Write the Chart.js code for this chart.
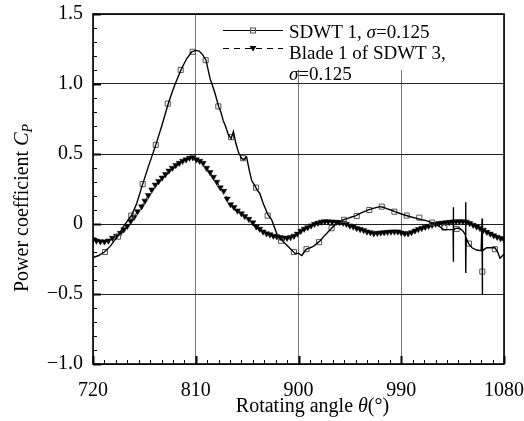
<!DOCTYPE html>
<html>
<head>
<meta charset="utf-8">
<script src="https://cdn.jsdelivr.net/npm/chart.js@4.4.1/dist/chart.umd.min.js"></script>
<style>
  html, body { margin: 0; padding: 0; background: #fff; }
  #wrap { width: 524px; height: 421px; position: relative; }
</style>
</head>
<body>
<div id="wrap"><canvas id="graficoCp" width="524" height="421"></canvas></div>
<script>
// =======================================================================
// DADOS
// =======================================================================
const X_TICKS = [720, 810, 900, 990, 1080];
const X_TICK_LABELS = ["720", "810", "900", "990", "1080"];
const Y_TICKS = [-1.0, -0.5, 0, 0.5, 1.0, 1.5];
const Y_TICK_LABELS = ["\u22121.0", "\u22120.5", "0", "0.5", "1.0", "1.5"];

// SDWT 1 - linha continua
const SDWT1_THETA = [
  720, 725, 730, 735, 739, 743, 746.5, 750, 754, 758, 763.5, 768.5, 775, 780,
  786, 791, 797, 802, 806.5, 810, 813, 816, 819, 822.5, 825, 827, 830, 832,
  834, 836, 838.5, 841, 843, 845, 847.5, 850, 852, 854.5, 857, 859, 862, 864,
  866, 869, 873, 876.5, 881, 886.5, 892, 897, 900, 903, 905, 907, 910, 913,
  916, 919, 922, 925, 929, 933.5, 939, 943, 946.5, 950, 954, 958, 962.5, 967,
  971.5, 975, 977, 981, 984.5, 989, 993, 998, 1003.5, 1008, 1012, 1016, 1021,
  1024, 1027, 1030, 1033, 1035.4, 1035.5, 1035.7, 1035.9, 1038.5, 1041, 1044,
  1046.3, 1046.4, 1046.6, 1046.8, 1049, 1052, 1056, 1060, 1060.8, 1061,
  1061.2, 1064.8, 1068, 1072, 1074.5, 1076.5, 1079.5, 1080,
];
const SDWT1_CP = [
  -0.24, -0.225, -0.2, -0.16, -0.115, -0.07, -0.02, 0.02, 0.065, 0.14, 0.285,
  0.41, 0.565, 0.695, 0.862, 0.98, 1.1, 1.18, 1.23, 1.24, 1.235, 1.21, 1.17,
  1.04, 0.98, 0.93, 0.84, 0.8, 0.74, 0.7, 0.64, 0.61, 0.66, 0.58, 0.51, 0.47,
  0.46, 0.48, 0.38, 0.31, 0.27, 0.24, 0.22, 0.15, 0.07, 0.03, -0.07, -0.125,
  -0.17, -0.21, -0.21, -0.225, -0.2, -0.18, -0.17, -0.16, -0.14, -0.12,
  -0.09, -0.065, -0.03, 0.005, 0.03, 0.04, 0.05, 0.058, 0.076, 0.09, 0.105,
  0.115, 0.124, 0.118, 0.11, 0.1, 0.088, 0.075, 0.064, 0.052, 0.04, 0.03,
  0.024, 0.012, -0.007, -0.02, -0.04, -0.04, -0.04, -0.04, 0.12, -0.27,
  -0.04, -0.03, -0.03, -0.05, -0.08, 0.155, -0.35, -0.1, -0.14, -0.17,
  -0.186, -0.19, 0.04, -0.5, -0.19, -0.17, -0.17, -0.17, -0.2, -0.245, -0.22,
  -0.22,
];

// SDWT 1 - marcadores quadrados
const SDWT1_SQ_THETA = [
  730.5, 742, 753.5, 763.5, 775, 785.5, 796.8, 807.3, 818.7, 829.8, 840.9,
  851.4, 862.8, 873, 884.7, 896, 907, 918, 929, 940, 951, 962, 972.9, 984,
  994.8, 1005.8, 1017, 1027.7, 1038.5, 1049.3, 1061, 1072,
];
const SDWT1_SQ_CP = [
  -0.2, -0.09, 0.06, 0.285, 0.565, 0.86, 1.1, 1.23, 1.17, 0.84, 0.62, 0.47,
  0.26, 0.06, -0.12, -0.2, -0.18, -0.13, -0.03, 0.03, 0.057, 0.1, 0.124,
  0.088, 0.06, 0.045, 0.01, -0.025, -0.035, -0.14, -0.34, -0.18,
];

// Blade 1 of SDWT 3 - tracejada com triangulos
const BLADE_THETA = [
  720, 723, 726.5, 730, 733.5, 737, 740.5, 744, 747, 750, 753, 756, 759,
  762.5, 765.5, 768.5, 771.5, 774.5, 777.5, 780.5, 783.5, 786.5, 789.5, 792.5,
  795.5, 798.5, 801.5, 804.5, 807.5, 810.5, 813.5, 816.5, 819.5, 822.5, 825.5,
  828.5, 831.5, 834.5, 837.5, 840.5, 843.5, 846.5, 850, 853, 856.5, 860, 863,
  866, 869, 872, 875, 878, 881, 884, 887, 890, 893, 896, 899, 902, 905, 908,
  911, 914, 917, 920, 923, 926, 929.5, 933, 936, 939, 942, 945, 948, 951, 954,
  957, 960, 963, 966, 969, 972, 975, 978, 981, 984, 987, 990, 993, 996, 999,
  1002, 1005, 1008, 1011, 1014, 1017, 1020, 1023, 1026, 1029, 1032, 1035,
  1038, 1041, 1044, 1047, 1050, 1053, 1056, 1059, 1062, 1065, 1068, 1071,
  1074, 1077, 1080,
];
const BLADE_CP = [
  -0.11, -0.12, -0.125, -0.126, -0.12, -0.1, -0.085, -0.065, -0.04, -0.015,
  0.02, 0.05, 0.09, 0.125, 0.165, 0.205, 0.245, 0.28, 0.305, 0.33, 0.355,
  0.38, 0.4, 0.42, 0.435, 0.45, 0.46, 0.472, 0.475, 0.46, 0.45, 0.435, 0.4,
  0.37, 0.335, 0.3, 0.26, 0.235, 0.18, 0.14, 0.12, 0.095, 0.075, 0.055, 0.035,
  0.01, -0.02, -0.035, -0.055, -0.068, -0.075, -0.085, -0.09, -0.095, -0.1,
  -0.1, -0.095, -0.085, -0.07, -0.05, -0.035, -0.025, -0.012, 0.0, 0.008,
  0.015, 0.018, 0.017, 0.016, 0.014, 0.012, 0.008, 0.0, -0.012, -0.02, -0.03,
  -0.038, -0.045, -0.055, -0.06, -0.067, -0.065, -0.062, -0.06, -0.058,
  -0.056, -0.055, -0.055, -0.062, -0.067, -0.068, -0.06, -0.048, -0.038,
  -0.03, -0.022, -0.015, -0.008, 0.0, 0.005, 0.008, 0.01, 0.013, 0.016,
  0.017, 0.018, 0.017, 0.015, 0.005, -0.007, -0.02, -0.03, -0.043, -0.058,
  -0.07, -0.082, -0.093, -0.102, -0.11,
];

const FONTE = '"Liberation Serif", "Times New Roman", serif';

const pares = (xs, ys) => xs.map((x, i) => ({ x, y: ys[i] }));
const rotulo = (vals, rots) => (v) => {
  const i = vals.findIndex((t) => Math.abs(t - v) < 1e-6);
  return i >= 0 ? rots[i] : "";
};

function partes(ctx, segs, x, y, tam) {
  segs.forEach(([txt, italico]) => {
    ctx.font = `${italico ? "italic " : ""}${tam}px ${FONTE}`;
    ctx.fillText(txt, x, y);
    x += ctx.measureText(txt).width;
  });
}

function largura(ctx, segs, tam) {
  let w = 0;
  segs.forEach(([txt, italico]) => {
    ctx.font = `${italico ? "italic " : ""}${tam}px ${FONTE}`;
    w += ctx.measureText(txt).width;
  });
  return w;
}

// =======================================================================
// PLUGIN: ticks internos, borda, titulos e legenda
// =======================================================================
const decoracao = {
  id: "decoracao",
  afterDatasetsDraw(chart) {
    const { ctx, chartArea: ca, scales } = chart;
    const sx = scales.x;
    const sy = scales.y;
    ctx.save();
    ctx.strokeStyle = "#000";

    // ticks menores/maiores no eixo x (para dentro)
    for (let v = 720; v <= 1080; v += 10) {
      const px = Math.round(sx.getPixelForValue(v)) + 0.5;
      const major = v % 90 === 0;
      ctx.lineWidth = major ? 2 : 1;
      ctx.beginPath();
      ctx.moveTo(px, ca.bottom);
      ctx.lineTo(px, ca.bottom - (major ? 8 : 4));
      ctx.stroke();
    }
    // ticks no eixo y
    for (let i = -10; i <= 15; i++) {
      const py = Math.round(sy.getPixelForValue(i / 10)) + 0.5;
      const major = i % 5 === 0;
      ctx.lineWidth = major ? 2 : 1;
      ctx.beginPath();
      ctx.moveTo(ca.left, py);
      ctx.lineTo(ca.left + (major ? 8 : 4), py);
      ctx.stroke();
    }

    // legenda
    const lx = ca.left + 132;
    ctx.fillStyle = "#fff";
    ctx.fillRect(lx, ca.top + 1, ca.right - lx - 1, 55);

    ctx.strokeStyle = "#000";
    ctx.lineWidth = 1.2;
    ctx.setLineDash([]);
    ctx.beginPath();
    ctx.moveTo(lx - 2, 30.5);
    ctx.lineTo(lx + 58, 30.5);
    ctx.stroke();
    ctx.strokeStyle = "#555";
    ctx.lineWidth = 1;
    ctx.strokeRect(lx + 25.5, 28, 5, 5);

    ctx.strokeStyle = "#000";
    ctx.lineWidth = 1.2;
    ctx.setLineDash([6, 5]);
    ctx.beginPath();
    ctx.moveTo(lx - 2, 48.5);
    ctx.lineTo(lx + 58, 48.5);
    ctx.stroke();
    ctx.setLineDash([]);
    ctx.fillStyle = "#000";
    ctx.beginPath();
    ctx.moveTo(lx + 24.5, 46);
    ctx.lineTo(lx + 31.5, 46);
    ctx.lineTo(lx + 28, 51.5);
    ctx.closePath();
    ctx.fill();

    const tx = lx + 64;
    ctx.fillStyle = "#000";
    ctx.textBaseline = "alphabetic";
    ctx.textAlign = "left";
    partes(ctx, [["SDWT 1, ", false], ["\u03c3", true], ["=0.125", false]], tx, 38, 19);
    partes(ctx, [["Blade 1 of SDWT 3,", false]], tx, 59, 19);
    partes(ctx, [["\u03c3", true], ["=0.125", false]], tx, 80, 19);

    // borda do grafico
    ctx.strokeStyle = "#000";
    ctx.lineWidth = 1.6;
    ctx.strokeRect(ca.left, ca.top, ca.right - ca.left, ca.bottom - ca.top);

    // titulo eixo x
    const segX = [["Rotating angle ", false], ["\u03b8", true], ["(\u00b0)", false]];
    const wx = largura(ctx, segX, 20);
    partes(ctx, segX, (ca.left + ca.right) / 2 + 14 - wx / 2, 412, 20);

    // titulo eixo y (rotacionado)
    ctx.save();
    ctx.translate(28, (ca.top + ca.bottom) / 2 + 19);
    ctx.rotate(-Math.PI / 2);
    const segY = [["Power coefficient ", false], ["C", true]];
    const wy = largura(ctx, segY, 20) + largura(ctx, [["P", true]], 14);
    const x0 = -wy / 2;
    partes(ctx, segY, x0, 0, 20);
    partes(ctx, [["P", true]], x0 + largura(ctx, segY, 20), 4, 14);
    ctx.restore();

    ctx.restore();
  },
};

// =======================================================================
// INICIALIZACAO
// =======================================================================
document.addEventListener("DOMContentLoaded", () => {
  const ctx = document.getElementById("graficoCp").getContext("2d");

  new Chart(ctx, {
    type: "scatter",
    data: {
      datasets: [
        {
          label: "SDWT 1, \u03c3=0.125",
          data: pares(SDWT1_THETA, SDWT1_CP),
          showLine: true,
          borderColor: "#000",
          borderWidth: 1.4,
          pointRadius: 0,
          tension: 0,
        },
        {
          label: "SDWT 1 markers",
          data: pares(SDWT1_SQ_THETA, SDWT1_SQ_CP),
          showLine: false,
          pointStyle: "rect",
          pointRadius: 3.6,
          borderColor: "#555",
          borderWidth: 1,
          backgroundColor: "rgba(0,0,0,0)",
        },
        {
          label: "Blade 1 of SDWT 3, \u03c3=0.125",
          data: pares(BLADE_THETA, BLADE_CP),
          showLine: true,
          borderColor: "#000",
          borderWidth: 1,
          borderDash: [5, 4],
          pointStyle: "triangle",
          rotation: 180,
          pointRadius: 3.5,
          pointBorderWidth: 0.5,
          backgroundColor: "#000",
          pointBackgroundColor: "#000",
        },
      ],
    },
    options: {
      responsive: false,
      animation: false,
      layout: { padding: { top: 14, right: 20, left: 0, bottom: 0 } },
      plugins: {
        legend: { display: false },
        tooltip: { enabled: false },
      },
      scales: {
        x: {
          type: "linear",
          min: 720,
          max: 1080,
          afterBuildTicks: (s) => {
            s.ticks = X_TICKS.map((v) => ({ value: v }));
          },
          afterFit: (s) => {
            s.height = 57;
            s.paddingLeft = 0;
            s.paddingRight = 0;
          },
          ticks: {
            color: "#000",
            font: { family: FONTE, size: 20 },
            padding: 15,
            maxRotation: 0,
            callback: rotulo(X_TICKS, X_TICK_LABELS),
          },
          grid: { color: "#777", lineWidth: 1, drawTicks: false },
          border: { display: false },
        },
        y: {
          type: "linear",
          min: -1,
          max: 1.5,
          afterBuildTicks: (s) => {
            s.ticks = Y_TICKS.map((v) => ({ value: v }));
          },
          afterFit: (s) => {
            s.width = 93;
            s.paddingTop = 0;
            s.paddingBottom = 0;
          },
          ticks: {
            color: "#000",
            font: { family: FONTE, size: 20 },
            padding: 10,
            callback: rotulo(Y_TICKS, Y_TICK_LABELS),
          },
          grid: { color: "#222", lineWidth: 1, drawTicks: false },
          border: { display: false },
        },
      },
    },
    plugins: [decoracao],
  });
});
</script>
</body>
</html>
